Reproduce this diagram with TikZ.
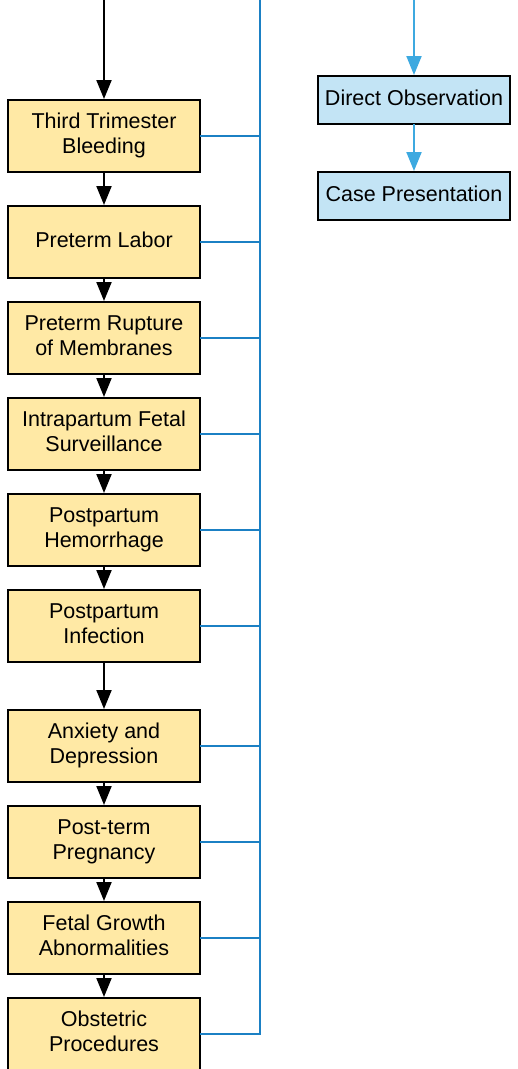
\documentclass[tikz,border=0pt]{standalone}
\usepackage{fontspec}
\setmainfont{Liberation Sans}
\usetikzlibrary{arrows.meta}
\definecolor{yfill}{HTML}{FFE9A5}
\definecolor{bfill}{HTML}{C3E4F5}
\definecolor{dblue}{HTML}{1B80C4}
\definecolor{lblue}{HTML}{3DA9E0}
\newcommand\tb[1]{\begin{tabular}{@{}c@{}}#1\end{tabular}}
\tikzset{
  ybox/.style={draw=black, line width=2pt, fill=yfill, minimum width=192pt, minimum height=72pt, inner sep=0pt, outer sep=0pt, font=\fontsize{21.5}{25}\selectfont, anchor=north west},
  bbox/.style={draw=black, line width=2pt, fill=bfill, minimum width=192pt, minimum height=48pt, inner sep=0pt, outer sep=0pt, font=\fontsize{21.5}{25}\selectfont, anchor=north west},
  karrow/.style={line width=2pt, -{Triangle[length=19pt,width=15pt]}, shorten >=1pt},
  barrow/.style={line width=2pt, lblue, -{Triangle[length=19pt,width=15pt]}, shorten >=1pt},
  link/.style={line width=2pt, dblue},
}
\begin{document}
\begin{tikzpicture}[x=1pt,y=-1pt]
\useasboundingbox (0,0) rectangle (518,1069);
\clip (0,0) rectangle (518,1069);
\coordinate (top) at (104,0);
\coordinate (btop) at (414,0);
\coordinate (vtop) at (260,0);
\node[ybox] (n1) at (8,100) {\tb{Third Trimester\\Bleeding}};
\node[ybox] (n2) at (8,206) {\tb{Preterm Labor}};
\node[ybox] (n3) at (8,302) {\tb{Preterm Rupture\\of Membranes}};
\node[ybox] (n4) at (8,398) {\tb{Intrapartum Fetal\\Surveillance}};
\node[ybox] (n5) at (8,494) {\tb{Postpartum\\Hemorrhage}};
\node[ybox] (n6) at (8,590) {\tb{Postpartum\\Infection}};
\node[ybox] (n7) at (8,710) {\tb{Anxiety and\\Depression}};
\node[ybox] (n8) at (8,806) {\tb{Post-term\\Pregnancy}};
\node[ybox] (n9) at (8,902) {\tb{Fetal Growth\\Abnormalities}};
\node[ybox] (n10) at (8,998) {\tb{Obstetric\\Procedures}};
\node[bbox] (d1) at (318,76) {\tb{Direct Observation}};
\node[bbox] (d2) at (318,172) {\tb{Case Presentation}};
\draw[karrow] (top) -- (n1.north);
\foreach \a/\b in {n1/n2,n2/n3,n3/n4,n4/n5,n5/n6,n6/n7,n7/n8,n8/n9,n9/n10}
  \draw[karrow] (\a.south) -- (\b.north);
\draw[barrow] (btop) -- (d1.north);
\draw[barrow] (d1.south) -- (d2.north);
\draw[link] (vtop) -- (vtop |- n10.east) -- (n10.east);
\foreach \n in {n1,n2,n3,n4,n5,n6,n7,n8,n9}
  \draw[link] (\n.east) -- (\n.east -| vtop);
\end{tikzpicture}
\end{document}
